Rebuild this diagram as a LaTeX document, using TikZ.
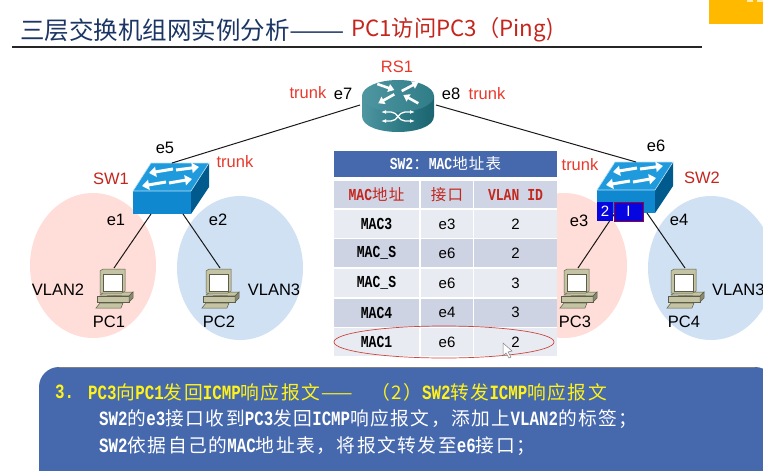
\documentclass[tikz,border=0pt]{standalone}
\usepackage{fontspec}
\usepackage{graphicx}
\setmainfont{Liberation Sans}
\newfontfamily\cjkfont[LetterSpace=8]{Noto Sans CJK SC}
\newfontfamily\ttlfont{Noto Sans CJK SC}
\newfontfamily\latfont[Scale=1.08,FakeStretch=0.78]{Liberation Mono}
\newcommand{\lat}[1]{{\latfont\bfseries #1}}
\usetikzlibrary{arrows.meta}
\definecolor{navy}{HTML}{1B3564}
\definecolor{redtxt}{HTML}{C4261D}
\definecolor{trunkred}{HTML}{E8392B}
\definecolor{orangebox}{HTML}{FFBA00}
\definecolor{vlanpink}{HTML}{FFDDD8}
\definecolor{vlanblue}{HTML}{D0E1F4}
\definecolor{panelblue}{HTML}{4668AD}
\definecolor{headrow}{HTML}{CFD5E5}
\definecolor{lightrow}{HTML}{E9EBF2}
\definecolor{darkrow}{HTML}{CDD3E3}
\definecolor{swtop}{HTML}{1F9BDD}
\definecolor{swfront}{HTML}{0F88D0}
\definecolor{swside}{HTML}{005A8E}
\definecolor{pcbody}{HTML}{C4C4A4}
\definecolor{pcline}{HTML}{5E5E48}
\definecolor{tagblue}{HTML}{0606E0}
\definecolor{swrt}{HTML}{2F7C87}
\definecolor{swrtd}{HTML}{1B6470}
\definecolor{swrtl}{HTML}{4F96A1}
\tikzset{
 swpic/.pic={
  \fill[swtop] (0,0)--(18,-28)--(76,-28)--(58,0)--cycle;
  \fill[swfront] (0,0) rectangle (58,23);
  \fill[swside] (58,0)--(76,-28)--(76,-4)--(58,23)--cycle;
  \draw[white!70!swtop,line width=.6pt] (0,0)--(18,-28)--(76,-28)--(58,0)--cycle;
  \foreach \ax/\ay/\bx/\by in {40/-22/16/-18,43/-21/66/-24,33/-9/9/-5,36/-8/59/-12}
   \draw[white,line width=3pt,-{Triangle[length=7pt,width=10pt]}] (\ax,\ay)--(\bx,\by);
  \coordinate (-top) at (39,-28);
  \coordinate (-left) at (18,23);
  \coordinate (-right) at (50,23);
 },
 rtpic/.pic={
  \shade[left color=swrtl,right color=swrtd,middle color=swrt] (-36,0)--(-36,20) .. controls (-36,41.3) and (36,41.3) .. (36,20)--(36,0)--cycle;
  \shade[left color=swrtl,right color=swrt] (0,0) ellipse (36pt and 16pt);
  \foreach \ax/\ay/\bx/\by in {-20.7/-12/-3.7/-6,3.7/-5/20.3/-13.7,-3.7/-1.7/-19.7/7.3,20.3/7.3/5.3/-1}
   \draw[white,line width=2.6pt,-{Triangle[length=6pt,width=8pt]}] (\ax,\ay)--(\bx,\by);
  \draw[white,line width=1.3pt,{Latex[length=5pt]}-{Latex[length=5pt]}] (-17,16)--(-7,16) .. controls (0,16) and (0,25) .. (7,25)--(17,25);
  \draw[white,line width=1.3pt,{Latex[length=5pt]}-{Latex[length=5pt]}] (-17,25)--(-7,25) .. controls (0,25) and (0,16) .. (7,16)--(17,16);
  \coordinate (-west) at (-38,9);
  \coordinate (-east) at (38,9);
 },
 pcpic/.pic={
  \draw[pcline,fill=pcbody,line width=.5pt] (4,26)--(8,23)--(37,23)--(33,27)--cycle;
  \draw[pcline,fill=pcbody,line width=.5pt] (1,27)--(33,27)--(33,33)--(1,33)--cycle;
  \draw[pcline,fill=pcbody!70!black,line width=.5pt] (33,27)--(37,23)--(37,29)--(33,33)--cycle;
  \draw[pcline,fill=pcbody,line width=.5pt] (0,39)--(4,34)--(27,34)--(25,39)--cycle;
  \draw[pcline,fill=pcbody,line width=.5pt] (4,2)--(7,0)--(29,0)--(29,22)--(26,24)--(4,24)--cycle;
  \draw[pcline,fill=white,line width=.5pt] (7,5) rectangle (26,22);
  \coordinate (-top) at (18,-1);
 },
}
\begin{document}
\begin{tikzpicture}[x=1pt,y=-1pt,
 lab/.style={inner sep=0,font=\fontsize{16.5}{18}\selectfont},
 redlab/.style={lab,text=trunkred},
 cell/.style={inner sep=0,font=\cjkfont\fontsize{15.5}{17}\selectfont},
 ptxt/.style={anchor=west,inner sep=0,text=white,font=\cjkfont\fontsize{18.75}{20}\selectfont},
 tag/.style={inner sep=0,fill=tagblue,text=white,minimum height=19pt,font=\fontsize{15}{17}\selectfont},
 wire/.style={line width=1pt,black!90}]
\clip (0,0) rectangle (763,471);
\fill[white] (0,0) rectangle (763,471);
\node[anchor=west,inner sep=0,text=navy,font=\ttlfont\fontsize{24.5}{28}\selectfont] (ttl) at (20,30) {三层交换机组网实例分析\scalebox{1.35}[1]{——}};
\node[anchor=west,inner sep=0,text=redtxt,font=\ttlfont\fontsize{22.3}{28}\selectfont] (ttlred) at (351,30) {PC1访问PC3（Ping)};
\draw[line width=1.3pt,black!85] (12,47)--(702,47);
\fill[orangebox] (709,0) rectangle (763,24);
\fill[orangebox!30!white] (747,0) rectangle (753,1.5);
\fill[orangebox!30!white] (757,0) rectangle (763,1.5);

\fill[vlanpink] (93,265.5) ellipse (63pt and 72.5pt);
\fill[vlanblue] (240,268) ellipse (63pt and 72pt);
\fill[vlanpink] (564,265.5) ellipse (63pt and 72.5pt);
\fill[vlanblue] (711,268) ellipse (63pt and 72pt);

\pic (rs1) at (398,96) {rtpic};
\pic (sw1) at (133,191) {swpic};
\pic (sw2) at (597,190) {swpic};
\pic (pc1) at (96,269) {pcpic};
\pic (pc2) at (202,269) {pcpic};
\pic (pc3) at (560,269) {pcpic};
\pic (pc4) at (667,269) {pcpic};
\draw[wire] (rs1-west)--(sw1-top);
\draw[wire] (rs1-east)--(sw2-top);
\draw[wire] (sw1-left)--(pc1-top);
\draw[wire] (sw1-right)--(pc2-top);
\draw[wire] (sw2-left)--(pc3-top);
\draw[wire] (sw2-right)--(pc4-top);

\node[tag,minimum width=16pt] (tagvlan) at (605,211.5) {2};
\node[tag,minimum width=29pt,draw=purple!80!black,line width=.6pt] (tagport) at (628.5,211.5) {I};

\node[redlab] (lrs1) at (397,67) {RS1};
\node[redlab] (ltrk1) at (308,93) {trunk};
\node[lab] (le7) at (343,94) {e7};
\node[lab] (le8) at (451,94) {e8};
\node[redlab] (ltrk2) at (487,94) {trunk};
\node[lab] (le5) at (165,148) {e5};
\node[redlab] (ltrk3) at (235,162) {trunk};
\node[redlab,text=redtxt] (lsw1) at (111,179) {SW1};
\node[lab] (le1) at (116,220) {e1};
\node[lab] (le2) at (218,220) {e2};
\node[lab] (lv2) at (58,290) {VLAN2};
\node[lab] (lv3) at (274,290) {VLAN3};
\node[lab] (lpc1) at (109,322) {PC1};
\node[lab] (lpc2) at (219,322) {PC2};
\node[lab] (le6) at (656,146) {e6};
\node[redlab] (ltrk4) at (580,165) {trunk};
\node[redlab,text=redtxt] (lsw2) at (702,178) {SW2};
\node[lab] (le3) at (579,221) {e3};
\node[lab] (le4) at (679,220) {e4};
\node[lab,anchor=west] (lv3b) at (712,290) {VLAN3};
\node[lab] (lpc3) at (575,322) {PC3};
\node[lab] (lpc4) at (684,322) {PC4};

\fill[white] (334,151) rectangle (557,357);
\node[cell,fill=panelblue,text=white,minimum width=223pt,minimum height=26pt] (tbl) at (445.5,164) {\lat{SW2}：\lat{MAC}地址表};
\node[cell,fill=headrow,text=redtxt,minimum width=85pt,minimum height=27pt] (hmac) at (376.5,194.5) {\lat{MAC}地址};
\node[cell,fill=headrow,text=redtxt,minimum width=52pt,minimum height=27pt] (hport) at (447,194.5) {接口};
\node[cell,fill=headrow,text=redtxt,minimum width=83pt,minimum height=27pt] (hvlan) at (515.5,194.5) {\lat{VLAN ID}};
\foreach \i/\yy/\mac/\port/\vl/\col in {1/224/MAC3/e3/2/lightrow,2/253/MAC\_S/e6/2/darkrow,3/283/MAC\_S/e6/3/lightrow,4/312.5/MAC4/e4/3/darkrow,5/342/MAC1/e6/2/lightrow}{
 \node[cell,fill=\col,minimum width=85pt,minimum height=28pt] (m\i) at (376.5,\yy) {\lat{\mac}};
 \node[cell,fill=\col,minimum width=52pt,minimum height=28pt,font=\fontsize{15}{17}\selectfont] (p\i) at (447,\yy) {\port};
 \node[cell,fill=\col,minimum width=83pt,minimum height=28pt,font=\fontsize{15}{17}\selectfont] (v\i) at (515.5,\yy) {\vl};
}
\draw[redtxt!85!white,line width=.7pt] (444,342) ellipse (110pt and 16pt);
\draw[gray,fill=white,line width=.5pt] (503,343)--(503,356)--(506,353)--(509,358)--(511,357)--(508,352)--(512,351)--cycle;

\fill[panelblue,rounded corners=20pt] (39,367) rectangle (775,500);
\draw[gray,line width=.5pt] (59,367)--(755,367);
\node[ptxt,text=yellow!90!white] (num) at (55,392) {\lat{3.}};
\node[ptxt,text=yellow!90!white] (line1) at (88,392) {\lat{PC3}向\lat{PC1}发回\lat{ICMP}响应报文——\hspace{18pt}（2）\lat{SW2}转发\lat{ICMP}响应报文};
\node[ptxt] (line2) at (99,419) {\lat{SW2}的\lat{e3}接口收到\lat{PC3}发回\lat{ICMP}响应报文，添加上\lat{VLAN2}的标签；};
\node[ptxt] (line3) at (99,446) {\lat{SW2}依据自己的\lat{MAC}地址表，将报文转发至\lat{e6}接口；};
\end{tikzpicture}
\end{document}
